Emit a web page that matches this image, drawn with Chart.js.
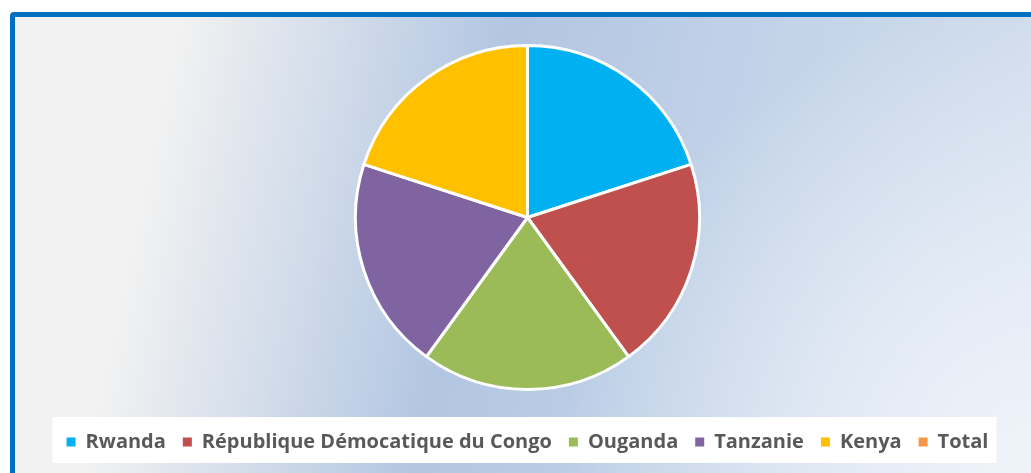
<!DOCTYPE html>
<html>
<head>
<meta charset="utf-8">
<script src="https://cdn.jsdelivr.net/npm/chart.js@4.4.0/dist/chart.umd.min.js"></script>
<style>
  html, body { margin: 0; padding: 0; background: #ffffff; overflow: hidden; }
  .frame {
    position: absolute;
    left: 10px;
    top: 12px;
    width: 1100px;
    height: 520px;
    border: 5px solid #0070C0;
    border-radius: 4px;
    background:
      radial-gradient(circle 470px at 1016px 456px, rgba(240,244,250,1) 0%, rgba(240,244,250,0.6) 45%, rgba(240,244,250,0) 100%),
      linear-gradient(102deg, #f2f2f2 0px, #f2f2f2 160px, #b2c6e2 485px, #c3d3e8 760px, #d2deee 1050px);
  }
  #wrap { position: absolute; left: 0; top: 0; width: 1031px; height: 473px; }
</style>
</head>
<body>
<div class="frame"></div>
<div id="wrap"><canvas id="chart"></canvas></div>
<script>
const categories = ['Rwanda', 'République Démocatique du Congo', 'Ouganda', 'Tanzanie', 'Kenya', 'Total']
const values = [20, 20, 20, 20, 20, 0]
const colors = ['#00B0F0', '#C0504D', '#9BBB59', '#8064A2', '#FFC000', '#F79646']

// white panel behind the legend items
const legendPanel = {
  id: 'legendPanel',
  beforeDraw(chart) {
    const boxes = chart.legend && chart.legend.legendHitBoxes
    if (!boxes || !boxes.length) return
    const left = Math.min(...boxes.map(b => b.left))
    const right = Math.max(...boxes.map(b => b.left + b.width))
    const top = Math.min(...boxes.map(b => b.top))
    const bottom = Math.max(...boxes.map(b => b.top + b.height))
    const ctx = chart.ctx
    ctx.save()
    ctx.fillStyle = '#ffffff'
    ctx.fillRect(left - 14, top - 15, right - left + 22, bottom - top + 26)
    ctx.restore()
  }
}

new Chart(document.getElementById('chart'), {
  type: 'pie',
  data: {
    labels: categories,
    datasets: [{
      data: values,
      backgroundColor: colors,
      borderColor: '#ffffff',
      borderWidth: 3
    }]
  },
  options: {
    responsive: true,
    maintainAspectRatio: false,
    animation: false,
    radius: 172,
    layout: {
      padding: { top: 20, left: 24, right: 0, bottom: 11 }
    },
    plugins: {
      tooltip: { enabled: false },
      legend: {
        position: 'bottom',
        labels: {
          color: '#595959',
          font: { family: "'Open Sans', sans-serif", size: 20, weight: 'bold' },
          boxWidth: 9,
          boxHeight: 9,
          padding: 17,
          generateLabels(chart) {
            const items = Chart.overrides.pie.plugins.legend.labels.generateLabels(chart)
            return items.map(item => ({ ...item, lineWidth: 0, strokeStyle: 'rgba(0,0,0,0)', hidden: false }))
          }
        }
      }
    }
  },
  plugins: [legendPanel]
})
</script>
</body>
</html>
